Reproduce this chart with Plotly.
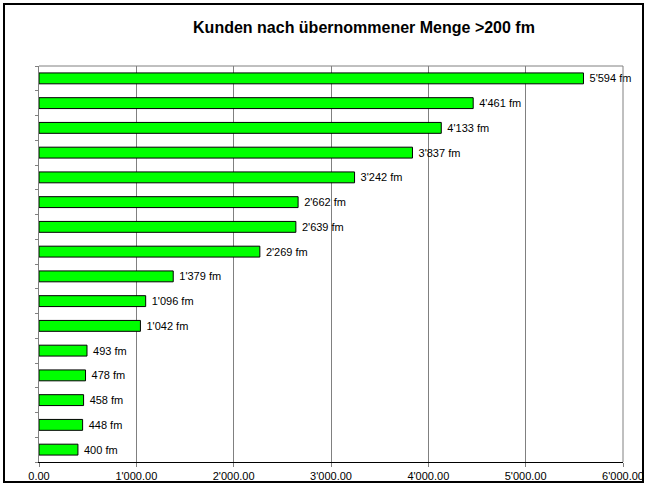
import plotly.graph_objects as go

categories = [f"Kunde {i}" for i in range(1, 17)]
values = [5594, 4461, 4133, 3837, 3242, 2662, 2639, 2269, 1379, 1096, 1042, 493, 478, 458, 448, 400]
tick_vals = [0, 1000, 2000, 3000, 4000, 5000, 6000]
tick_text = ["0.00", "1'000.00", "2'000.00", "3'000.00", "4'000.00", "5'000.00", "6'000.00"]

labels = ["\u00a0" + f"{v:,}".replace(",", "'") + " fm" for v in values]

fig = go.Figure(go.Bar(
    y=categories, x=values, orientation="h",
    marker=dict(color="#00FF00", line=dict(color="black", width=1)),
    width=0.44,
    text=labels, textposition="outside", cliponaxis=False,
    constraintext="none",
    textfont=dict(family="Arial, Liberation Sans", size=11, color="black"),
))

W, H = 645, 484
l, r, t, b = 39, 22, 66, 22
pw, ph = W - l - r, H - t - b

def px(xp):
    return (xp - l) / pw

def py(yp):
    return (H - b - yp) / ph

fig.update_layout(
    width=W, height=H,
    margin=dict(l=l, r=r, t=t, b=b, autoexpand=False),
    paper_bgcolor="white", plot_bgcolor="white",
    showlegend=False,
    title=dict(text="<b>Kunden nach übernommener Menge >200 fm</b>",
               x=364 / W, xanchor="center", y=1 - 27 / H, yanchor="middle",
               font=dict(family="Arial, Liberation Sans", size=16, color="black")),
    xaxis=dict(range=[0, 6000], tickvals=tick_vals, ticktext=tick_text,
               showgrid=True, gridcolor="#808080", gridwidth=1,
               showline=True, linecolor="#000000", linewidth=1, mirror=False,
               ticks="outside", ticklen=4, tickcolor="#808080",
               tickfont=dict(family="Arial, Liberation Sans", size=11, color="black"),
               zeroline=False, fixedrange=True, automargin=False),
    yaxis=dict(categoryorder="array", categoryarray=categories[::-1],
               showticklabels=False, showgrid=False,
               showline=True, linecolor="#808080", linewidth=1,
               ticks="outside", ticklen=3, tickcolor="#808080", tickson="boundaries",
               zeroline=False, fixedrange=True, automargin=False),
    shapes=[
        dict(type="line", xref="paper", yref="paper", x0=0, x1=1, y0=1, y1=1,
             line=dict(color="#808080", width=1)),
        dict(type="line", xref="paper", yref="paper", x0=1, x1=1, y0=0, y1=1,
             line=dict(color="#808080", width=1)),
        dict(type="rect", xref="paper", yref="paper",
             x0=px(4), x1=px(643), y0=py(4), y1=py(482),
             line=dict(color="black", width=2), fillcolor="rgba(0,0,0,0)", layer="above"),
    ],
)

fig.write_html("out.html", config={"displayModeBar": False},
               post_script="document.body.style.margin='0';document.body.style.overflow='hidden';")
